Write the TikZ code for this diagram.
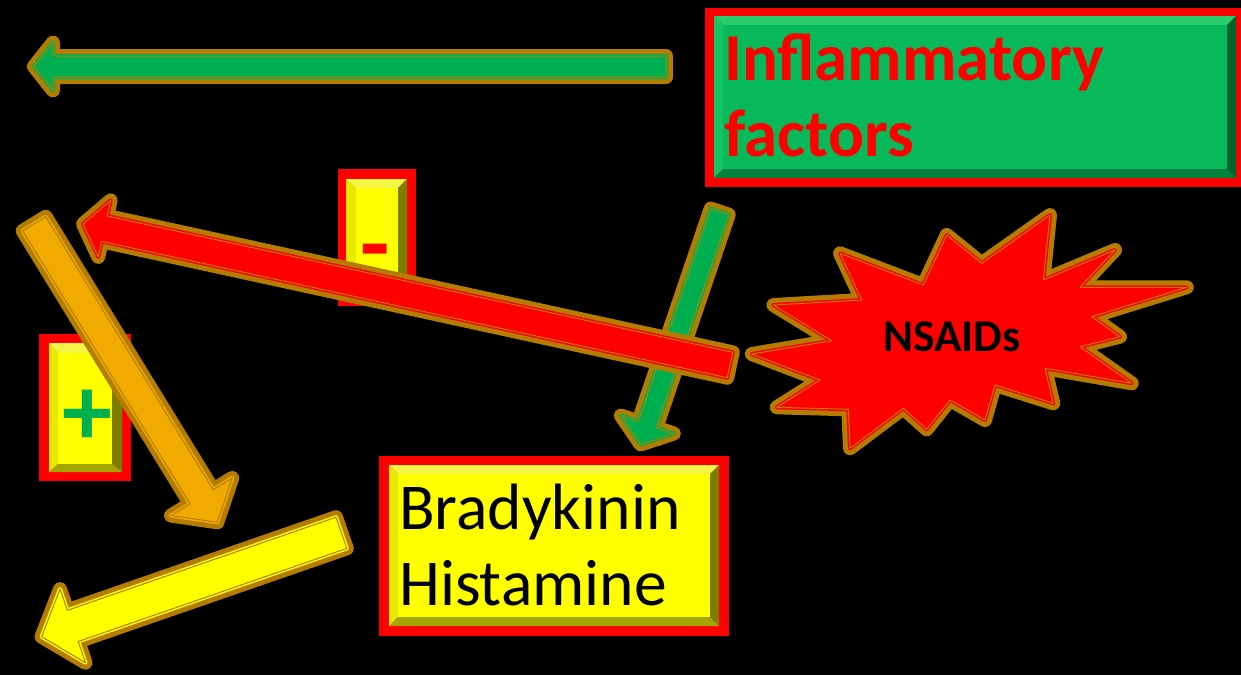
\documentclass[tikz,border=0pt]{standalone}
\usepackage{fontspec}
\setmainfont{Carlito}
\usetikzlibrary{calc}
\definecolor{gold}{RGB}{180,125,0}
\definecolor{agreen}{RGB}{0,176,80}
\definecolor{aorange}{RGB}{240,170,0}
\definecolor{ayellow}{RGB}{255,255,0}
\definecolor{ared}{RGB}{255,0,0}
% bevel colours: green frame
\definecolor{igface}{RGB}{8,185,90}
\definecolor{igtop}{RGB}{40,205,110}
\definecolor{igleft}{RGB}{20,195,100}
\definecolor{igright}{RGB}{0,100,45}
\definecolor{igbot}{RGB}{0,130,60}
% bevel colours: yellow frame
\definecolor{ylface}{RGB}{255,255,0}
\definecolor{yltop}{RGB}{245,245,70}
\definecolor{ylleft}{RGB}{232,232,0}
\definecolor{ylright}{RGB}{125,125,0}
\definecolor{ylbot}{RGB}{165,165,0}
% arrow: colour, tail, tip, shaft half width, head half width, head length
\newcommand\farrow[6]{%
  \path (#2) coordinate (T) (#3) coordinate (P);
  \path ($(P)!#6!(T)$) coordinate (H);
  \path[fancy=#1] ($(T)!#4!90:(P)$) -- ($(H)!#4!90:(P)$) -- ($(H)!#5!90:(P)$) -- (P)
     -- ($(H)!#5!-90:(P)$) -- ($(H)!#4!-90:(P)$) -- ($(T)!#4!-90:(P)$) -- cycle;}
% bevelled frame: outer x1 y1 x2 y2, face x1 y1 x2 y2, colour prefix
\newcommand\bevbox[9]{%
  \fill[#9top] (#1,#2) -- (#3,#2) -- (#7,#6) -- (#5,#6) -- cycle;
  \fill[#9left] (#1,#2) -- (#5,#6) -- (#5,#8) -- (#1,#4) -- cycle;
  \fill[#9right] (#3,#2) -- (#3,#4) -- (#7,#8) -- (#7,#6) -- cycle;
  \fill[#9bot] (#1,#4) -- (#5,#8) -- (#7,#8) -- (#3,#4) -- cycle;
  \fill[#9face] (#5,#6) rectangle (#7,#8);}
\begin{document}
\begin{tikzpicture}[x=1pt,y=-1pt,
  fancy/.style={fill=#1, line join=round,
    preaction={draw=gold, line width=14pt, line join=round},
    preaction={draw=#1, line width=4pt, line join=round},
    postaction={draw=gold, line width=1pt, line join=round}},
  label/.style={inner sep=0pt}]
\useasboundingbox (0,0) rectangle (1241,675);
\fill[black] (0,0) rectangle (1241,675);

% Inflammatory factors box
\fill[ared] (705,8) rectangle (1245,187);
\bevbox{714}{16}{1236}{178}{723}{25}{1227}{169}{ig}
\node[label, anchor=base west, text=ared, font=\bfseries\fontsize{67}{76}\selectfont] (infl) at (724,80)
  {\vtop{\baselineskip=76pt\hbox{Inflammatory}\hbox{factors}}};

% minus box
\fill[ared] (338,169) rectangle (416,306);
\bevbox{346}{179}{407}{297}{356}{188}{398}{288}{yl}
\node[label, text=ared, font=\bfseries\fontsize{96}{96}\selectfont] (minus) at (375,260) {-};

% plus box
\fill[ared] (39,334) rectangle (131,481);
\bevbox{49}{343}{122}{472}{58}{353}{112}{464}{yl}
\node[label, text=agreen, font=\bfseries\fontsize{100}{100}\selectfont] (plus) at (87,418) {+};

% Bradykinin box
\fill[ared] (379,456) rectangle (729,636);
\bevbox{389}{465}{719}{626}{398}{474}{710}{617}{yl}
\node[label, anchor=base west, text=black, font=\fontsize{65.5}{76}\selectfont] (brady) at (399,529)
  {\vtop{\baselineskip=76pt\hbox{Bradykinin}\hbox{Histamine}}};

% arrows
\farrow{agreen}{719.7,211.6}{640.6,444.4}{9.5pt}{28pt}{21pt}
\farrow{ared}{730,365}{83,224}{13pt}{29pt}{22pt}
\farrow{aorange}{34.2,223.8}{217.3,522.3}{13.5pt}{36pt}{30pt}
\farrow{ayellow}{341.4,532.8}{41.6,636.7}{16.5pt}{39pt}{33pt}
\farrow{agreen}{666,66.5}{34,66.5}{10.5pt}{24pt}{19pt}

% NSAIDs burst
\path[fancy=ared] (751.7,354) -- (831.7,340.7) -- (773.3,305) -- (861.7,300) -- (840,253.3)
  -- (923.3,285) -- (946.7,235) -- (981.7,263.3) -- (1050,215) -- (1043.3,280) -- (1115,250)
  -- (1080,287.3) -- (1186.7,287.3) -- (1091.7,316.7) -- (1120,336.7) -- (1080,346.7)
  -- (1131.7,383.3) -- (1045,368.3) -- (1053.3,403.3) -- (995,385) -- (985,420) -- (950,400)
  -- (926.7,429.3) -- (903.3,408.3) -- (850,448.3) -- (848.3,409.3) -- (776.7,407.3) -- (820,380) -- cycle;
\node[label, text=black, font=\bfseries\fontsize{45.5}{45.5}\selectfont] (nsaids) at (952,337) {NSAIDs};
\end{tikzpicture}
\end{document}
